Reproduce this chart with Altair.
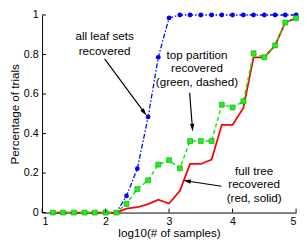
import altair as alt
import pandas as pd
import numpy as np

# ---- data ----
log_n = [1.17, 1.33, 1.5, 1.67, 1.83, 2.0, 2.17, 2.33, 2.5, 2.67, 2.83, 3.0,
         3.17, 3.33, 3.5, 3.67, 3.83, 4.0, 4.17, 4.33, 4.5, 4.67, 4.83, 5.0]
leaf_sets = [0, 0, 0, 0, 0, 0, 0, 0.084, 0.222, 0.484, 0.786, 0.985,
             1, 1, 1, 1, 1, 1, 1, 1, 1, 1, 1, 1]
top_partition = [0, 0, 0, 0, 0, 0, 0, 0.044, 0.119, 0.163, 0.243, 0.265,
                 0.224, 0.362, 0.362, 0.362, 0.546, 0.532, 0.563, 0.806, 0.786, 0.846, 0.962, 0.984]
full_tree = [0, 0, 0, 0, 0, 0, 0, 0.02, 0.027, 0.043, 0.065, 0.046,
             0.11, 0.246, 0.246, 0.268, 0.444, 0.444, 0.53, 0.786, 0.786, 0.846, 0.962, 0.984]

x_ticks = [1, 2, 3, 4, 5]
y_ticks = [0, 0.2, 0.4, 0.6, 0.8, 1]

# annotation texts (data coordinates)
note_text = ["all leaf sets", "recovered",
             "top partition", "recovered", "(green, dashed)",
             "full tree", "recovered", "(red, solid)"]
note_x = [1.985, 1.985, 3.44, 3.44, 3.44, 4.34, 4.34, 4.34]
note_y = [0.892, 0.818, 0.798, 0.729, 0.660, 0.212, 0.143, 0.074]

# arrows: start -> tip (data coordinates)
arrow_x0 = [1.985, 3.324, 3.824]
arrow_y0 = [0.778, 0.606, 0.133]
arrow_x1 = [2.647, 3.372, 3.221]
arrow_y1 = [0.490, 0.410, 0.163]

W, H = 261, 203
FONT = "Liberation Sans"

xs = alt.Scale(domain=[1, 5], nice=False, zero=False)
ys = alt.Scale(domain=[0, 1], nice=False)

df_blue = pd.DataFrame({"x": log_n, "y": leaf_sets})
df_red = pd.DataFrame({"x": log_n, "y": full_tree})
df_green = pd.DataFrame({"x": log_n, "y": top_partition})

xenc = alt.X("x:Q", scale=xs,
             axis=alt.Axis(values=x_ticks, format="d", title="log10(# of samples)",
                           titlePadding=2))
yenc = alt.Y("y:Q", scale=ys,
             axis=alt.Axis(values=y_ticks, format="~g", title="Percentage of trials",
                           titleX=-21))

blue_line = alt.Chart(df_blue).mark_line(color="#0000ff", strokeWidth=1.3,
                                         strokeDash=[5, 2, 1.5, 2]).encode(x=xenc, y=yenc)
blue_pts = alt.Chart(df_blue.iloc[7:]).mark_point(shape="circle", filled=True, opacity=1,
                                                  color="#0000ff", size=24).encode(x="x:Q", y="y:Q")
red_line = alt.Chart(df_red).mark_line(color="#ff0000", strokeWidth=1.8).encode(x="x:Q", y="y:Q")
green_line = alt.Chart(df_green).mark_line(color="#00ee00", strokeWidth=1.5,
                                           strokeDash=[4, 3]).encode(x="x:Q", y="y:Q")
green_pts = alt.Chart(df_green).mark_point(shape="square", filled=True, opacity=1,
                                           color="#22ee22", stroke="#00aa00", strokeWidth=0.6,
                                           size=26).encode(x="x:Q", y="y:Q")

# inward ticks (MATLAB style)
ytick_df = pd.DataFrame({"y": y_ticks})
ytick = alt.Chart(ytick_df).mark_rule(color="black", strokeWidth=1).encode(
    y="y:Q", x=alt.value(0), x2=alt.value(4))
xtick_df = pd.DataFrame({"x": x_ticks})
xtick = alt.Chart(xtick_df).mark_rule(color="black", strokeWidth=1).encode(
    x="x:Q", y=alt.value(H), y2=alt.value(H - 4))

# arrows
def px(x):
    return (np.asarray(x) - 1) / 4 * W

def py(y):
    return (1 - np.asarray(y)) * H

dx = px(arrow_x1) - px(arrow_x0)
dy = py(arrow_y1) - py(arrow_y0)
L = np.hypot(dx, dy)
ang = (np.degrees(np.arctan2(dx, -dy)) + 360) % 360
head_len = 8.0
cx = px(arrow_x1) - dx / L * head_len / 2
cy = py(arrow_y1) - dy / L * head_len / 2
arrow_df = pd.DataFrame({
    "x0": arrow_x0, "y0": arrow_y0,
    "x1": list(cx / W * 4 + 1), "y1": list(1 - cy / H),
    "ang": list(ang),
})
arrow_line = alt.Chart(arrow_df).mark_rule(color="black", strokeWidth=1.2).encode(
    x="x0:Q", y="y0:Q", x2="x1:Q", y2="y1:Q")
arrow_head = alt.Chart(arrow_df).mark_point(
    shape="M0,-1L0.55,1L-0.55,1Z", filled=True, opacity=1, color="black", size=head_len ** 2
).encode(x="x1:Q", y="y1:Q", angle=alt.Angle("ang:Q", scale=None))

notes_df = pd.DataFrame({"t": note_text, "x": note_x, "y": note_y})
notes = alt.Chart(notes_df).mark_text(font=FONT, fontSize=12, color="black",
                                      align="center", baseline="middle").encode(
    x="x:Q", y="y:Q", text="t:N")

chart = alt.layer(
    blue_line, red_line, green_line, blue_pts, green_pts,
    ytick, xtick, arrow_line, arrow_head, notes
).properties(
    width=W, height=H,
    autosize=alt.AutoSizeParams(type="none"),
    padding={"left": 35, "top": 4, "right": 3, "bottom": 25},
).configure_view(stroke=None).configure_axis(
    grid=False, domainColor="black", domainWidth=1, tickSize=0,
    labelFont=FONT, labelFontSize=11, labelColor="black", labelPadding=4,
    titleFont=FONT, titleFontSize=12, titleFontWeight="normal", titleColor="black",
).configure_axisX(labelPadding=3)

chart.save("out.html", embed_options={"renderer": "svg", "actions": False})
